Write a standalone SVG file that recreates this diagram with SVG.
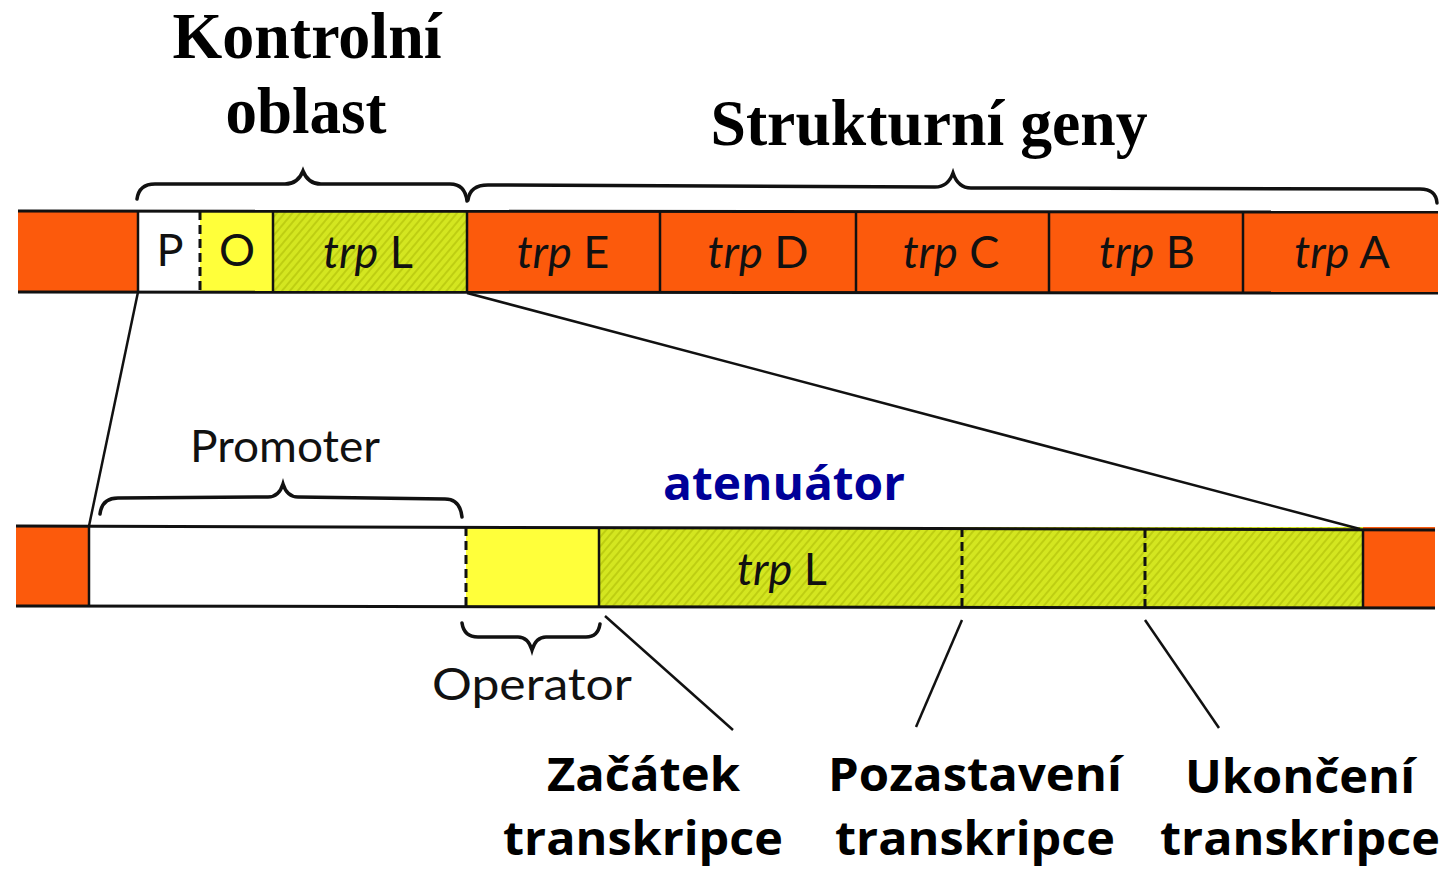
<svg xmlns="http://www.w3.org/2000/svg" width="1446" height="869" viewBox="0 0 1446 869">
<style>
.ol{stroke:#111;stroke-width:3;fill:none}
.dv{stroke:#111;stroke-width:2.5}
.ds{stroke:#111;stroke-width:3;stroke-dasharray:9 5}
.or{fill:#fc5a0c}
.ye{fill:#ffff3a}
.gr{fill:url(#hatch)}
.br{stroke:#111;stroke-width:3.5;fill:none;stroke-linecap:round}
.cn{stroke:#111;stroke-width:2.5;fill:none}
.lb{font-family:Lato,"Noto Sans",sans-serif;fill:#111;font-size:45px}
.hd{font-family:"Liberation Serif","Times New Roman",serif;font-weight:bold;fill:#000;font-size:66px}
.bt{font-family:"Open Sans","DejaVu Sans",sans-serif;font-weight:bold;fill:#000;font-size:46px}
</style>
<defs>
<pattern id="hatch" patternUnits="userSpaceOnUse" width="6" height="6" patternTransform="rotate(40)">
<rect width="6" height="6" fill="#d4e620"/>
<line x1="1" y1="0" x2="1" y2="6" stroke="#b9c80e" stroke-width="1.6"/>
</pattern>
</defs>
<rect width="1446" height="869" fill="#fff"/>

<g id="titles">
<text class="hd" x="307" y="58" text-anchor="middle" textLength="269" lengthAdjust="spacingAndGlyphs">Kontrolní</text>
<text class="hd" x="306" y="133" text-anchor="middle" textLength="161" lengthAdjust="spacingAndGlyphs">oblast</text>
<text class="hd" x="929" y="145" text-anchor="middle" textLength="437" lengthAdjust="spacingAndGlyphs">Strukturní geny</text>
</g>

<g id="braces">
<path class="br" d="M137,199 Q139,184 155,184 L285,184 Q298,184 303,171 Q308,184 321,184 L450,184 Q465,184 467,201"/>
<path class="br" d="M468,200 Q470,185 488,185 L935,187 Q948,187 953,173 Q958,188 971,188 L1420,189 Q1436,189 1437,203"/>
<path class="br" d="M100,514 Q102,498 118,498 L268,497 Q279,497 283,484 Q287,497 298,497 L445,499 Q460,499 462,517"/>
<path class="br" d="M462,623 Q464,637 478,637 L518,637 Q528,637 532,650 Q536,637 546,637 L586,637 Q598,637 600,624"/>
</g>

<g id="top-bar">
<rect class="or" x="18" y="211" width="120" height="81"/>
<rect x="138" y="211" width="62" height="81" fill="#fff"/>
<rect class="ye" x="200" y="211" width="73" height="81"/>
<rect class="gr" x="273" y="211" width="194" height="81"/>
<rect class="or" x="467" y="211" width="971" height="81"/>
<line class="ol" x1="18" y1="211" x2="1438" y2="212"/>
<line class="ol" x1="18" y1="292" x2="1438" y2="293"/>
<line class="dv" x1="138" y1="211" x2="138" y2="292"/>
<line class="ds" x1="200" y1="211" x2="200" y2="292"/>
<line class="dv" x1="273" y1="211" x2="273" y2="292"/>
<line class="dv" x1="467" y1="211" x2="467" y2="292"/>
<line class="dv" x1="660" y1="211" x2="660" y2="292"/>
<line class="dv" x1="856" y1="211" x2="856" y2="292"/>
<line class="dv" x1="1049" y1="211" x2="1049" y2="292"/>
<line class="dv" x1="1243" y1="211" x2="1243" y2="292"/>
<text class="lb" x="170" y="266" text-anchor="middle">P</text>
<text class="lb" x="237" y="266" text-anchor="middle">O</text>
<text class="lb" x="368" y="268" text-anchor="middle"><tspan font-style="italic">trp</tspan> L</text>
<text class="lb" x="563" y="268" text-anchor="middle"><tspan font-style="italic">trp</tspan> E</text>
<text class="lb" x="758" y="268" text-anchor="middle"><tspan font-style="italic">trp</tspan> D</text>
<text class="lb" x="951" y="268" text-anchor="middle"><tspan font-style="italic">trp</tspan> C</text>
<text class="lb" x="1147" y="268" text-anchor="middle"><tspan font-style="italic">trp</tspan> B</text>
<text class="lb" x="1342" y="268" text-anchor="middle"><tspan font-style="italic">trp</tspan> A</text>
</g>

<g id="bottom-bar">
<rect class="or" x="16" y="527" width="73" height="80"/>
<rect x="89" y="527" width="377" height="80" fill="#fff"/>
<rect class="ye" x="466" y="527" width="133" height="80"/>
<rect class="gr" x="599" y="527" width="764" height="80"/>
<rect class="or" x="1363" y="527" width="72" height="80"/>
<line class="ol" x1="16" y1="526" x2="1435" y2="530"/>
<line class="ol" x1="16" y1="606" x2="1435" y2="608"/>
<line class="dv" x1="89" y1="527" x2="89" y2="607"/>
<line class="ds" x1="466" y1="527" x2="466" y2="607"/>
<line class="dv" x1="599" y1="527" x2="599" y2="607"/>
<line class="ds" x1="962" y1="528" x2="962" y2="608"/>
<line class="ds" x1="1145" y1="529" x2="1145" y2="608"/>
<line class="dv" x1="1363" y1="529" x2="1363" y2="608"/>
<text class="lb" x="782" y="585" text-anchor="middle"><tspan font-style="italic">trp</tspan> L</text>
</g>

<g id="labels">
<text class="lb" x="190" y="462" font-size="51" textLength="190" lengthAdjust="spacingAndGlyphs">Promoter</text>
<text class="lb" x="432" y="700" font-size="52" textLength="200" lengthAdjust="spacingAndGlyphs">Operator</text>
<text x="663" y="500" font-family="'Open Sans','DejaVu Sans',sans-serif" font-weight="bold" font-size="46" fill="#000099" textLength="242" lengthAdjust="spacingAndGlyphs">atenuátor</text>
<text class="bt" x="547" y="791" textLength="193" lengthAdjust="spacingAndGlyphs">Začátek</text>
<text class="bt" x="503" y="855" textLength="280" lengthAdjust="spacingAndGlyphs">transkripce</text>
<text class="bt" x="828" y="791" textLength="294" lengthAdjust="spacingAndGlyphs">Pozastavení</text>
<text class="bt" x="835" y="855" textLength="280" lengthAdjust="spacingAndGlyphs">transkripce</text>
<text class="bt" x="1185" y="793" textLength="230" lengthAdjust="spacingAndGlyphs">Ukončení</text>
<text class="bt" x="1160" y="855" textLength="280" lengthAdjust="spacingAndGlyphs">transkripce</text>
</g>

<g id="connectors">
<line class="cn" x1="138" y1="292" x2="89" y2="526"/>
<line class="cn" x1="467" y1="293" x2="1360" y2="529"/>
<line class="cn" x1="605" y1="616" x2="733" y2="730"/>
<line class="cn" x1="962" y1="620" x2="916" y2="727"/>
<line class="cn" x1="1145" y1="620" x2="1219" y2="728"/>
</g>
</svg>
